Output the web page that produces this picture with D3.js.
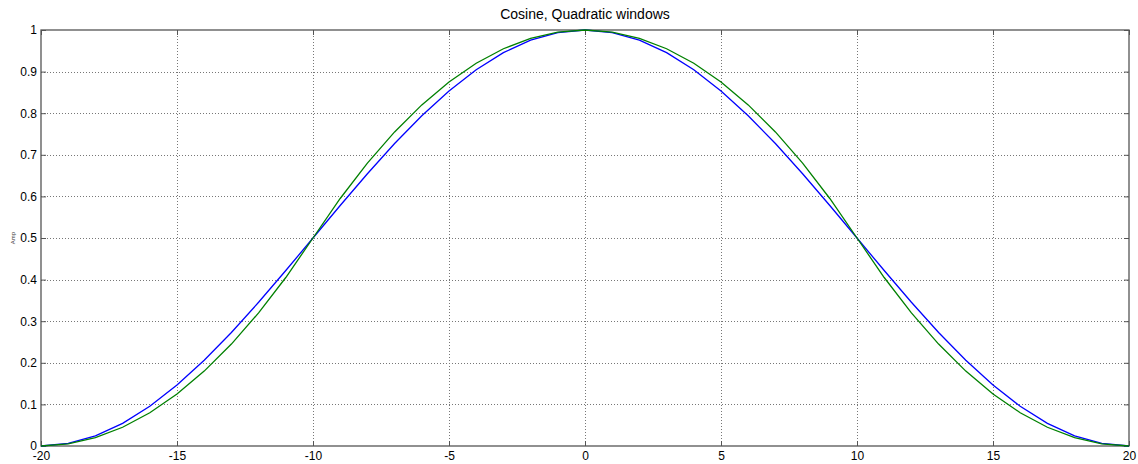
<!DOCTYPE html>
<html><head><meta charset="utf-8">
<script src="https://cdn.jsdelivr.net/npm/d3@7"></script>
<style>html,body{margin:0;padding:0;background:#fff}svg{display:block}text{font-family:Arial,"Liberation Sans",sans-serif}</style>
</head><body><div id="c"></div>
<script>
const xValues = [-20,-19,-18,-17,-16,-15,-14,-13,-12,-11,-10,-9,-8,-7,-6,-5,-4,-3,-2,-1,0,1,2,3,4,5,6,7,8,9,10,11,12,13,14,15,16,17,18,19,20];
const cosineWin = [0,0.0062,0.0245,0.0545,0.0955,0.1464,0.2061,0.2730,0.3455,0.4218,0.5,0.5782,0.6545,0.7270,0.7939,0.8536,0.9045,0.9455,0.9755,0.9938,1,0.9938,0.9755,0.9455,0.9045,0.8536,0.7939,0.7270,0.6545,0.5782,0.5,0.4218,0.3455,0.2730,0.2061,0.1464,0.0955,0.0545,0.0245,0.0062,0];
const quadWin = [0,0.005,0.02,0.045,0.08,0.125,0.18,0.245,0.32,0.405,0.5,0.595,0.68,0.755,0.82,0.875,0.92,0.955,0.98,0.995,1,0.995,0.98,0.955,0.92,0.875,0.82,0.755,0.68,0.595,0.5,0.405,0.32,0.245,0.18,0.125,0.08,0.045,0.02,0.005,0];
const xTicks = [-20,-15,-10,-5,0,5,10,15,20];
const yTicks = [0,0.1,0.2,0.3,0.4,0.5,0.6,0.7,0.8,0.9,1];
const title = "Cosine, Quadratic windows";
const yLabel = "Amp";

const W=1138,H=464;
const m={l:41,t:30,r:9,b:18};
const svg=d3.select("#c").append("svg").attr("width",W).attr("height",H);
const x=d3.scaleLinear().domain([-20,20]).range([m.l,W-m.r]);
const y=d3.scaleLinear().domain([0,1]).range([H-m.b,m.t]);
const g=svg.append("g");
// grid
g.selectAll(".gx").data(xTicks.slice(1,-1)).join("line")
 .attr("x1",d=>x(d)+0.5).attr("x2",d=>x(d)+0.5).attr("y1",y(1)).attr("y2",y(0))
 .attr("stroke","#777").attr("stroke-width",1).attr("stroke-dasharray","1,2");
g.selectAll(".gy").data(yTicks.slice(1,-1)).join("line")
 .attr("y1",d=>Math.round(y(d))+0.5).attr("y2",d=>Math.round(y(d))+0.5).attr("x1",x(-20)).attr("x2",x(20))
 .attr("stroke","#777").attr("stroke-width",1).attr("stroke-dasharray","1,2");
// axes with inward ticks
const ax=d3.axisBottom(x).tickValues(xTicks).tickSize(-5).tickPadding(5).tickFormat(d=>String(d));
const ay=d3.axisLeft(y).tickValues(yTicks).tickSize(-5).tickPadding(4).tickFormat(d=>String(d));
const gx=svg.append("g").attr("transform",`translate(0,${y(0)})`).call(ax);
const gy=svg.append("g").attr("transform",`translate(${x(-20)},0)`).call(ay);
[gx,gy].forEach(a=>{a.select(".domain").remove();a.selectAll("line").attr("stroke","#555");a.selectAll("text").attr("font-size",12).attr("fill","#000");});
// top/right ticks
svg.append("g").attr("transform",`translate(0,${y(1)})`).call(d3.axisTop(x).tickValues(xTicks).tickSize(-5).tickFormat("")).call(a=>{a.select(".domain").remove();a.selectAll("line").attr("stroke","#555");});
svg.append("g").attr("transform",`translate(${x(20)},0)`).call(d3.axisRight(y).tickValues(yTicks).tickSize(-5).tickFormat("")).call(a=>{a.select(".domain").remove();a.selectAll("line").attr("stroke","#555");});
// box
svg.append("rect").attr("x",x(-20)).attr("y",y(1)).attr("width",x(20)-x(-20)).attr("height",y(0)-y(1))
 .attr("fill","none").attr("stroke","#555").attr("stroke-width",1.3);
// lines
const line=vals=>d3.line().x((d,i)=>x(xValues[i])).y(d=>y(d))(vals);
svg.append("path").attr("d",line(cosineWin)).attr("fill","none").attr("stroke","#0000ff").attr("stroke-width",1.3);
svg.append("path").attr("d",line(quadWin)).attr("fill","none").attr("stroke","#008000").attr("stroke-width",1.3);
// title & label
svg.append("text").attr("x",(x(-20)+x(20))/2).attr("y",19).attr("text-anchor","middle").attr("font-size",14).text(title);
svg.append("text").attr("transform",`translate(15,${y(0.5)}) rotate(-90)`).attr("text-anchor","middle").attr("font-size",6).attr("fill","#333").text(yLabel);
</script></body></html>
